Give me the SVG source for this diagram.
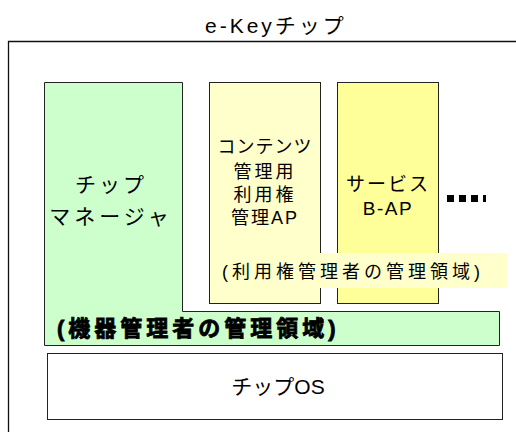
<svg xmlns="http://www.w3.org/2000/svg" width="516" height="432" viewBox="0 0 516 432">
<style>
.t{font-family:"Liberation Sans","Noto Sans CJK JP",sans-serif;fill:#000;text-anchor:middle;dominant-baseline:central}
.t.s{text-anchor:start}
.box{stroke:#222;stroke-width:1}
</style>
<rect width="516" height="432" fill="#fff"/>
<g id="frame">
<path d="M8.5,432 V41.5 H516" fill="none" stroke="#111" stroke-width="1.3"/>
</g>
<text class="t s" x="205" y="25" font-size="21" letter-spacing="3">e-Keyチップ</text>
<g id="chip-manager">
<path class="box" d="M44.5,82.5 H182.5 V311.5 H499.5 V345.5 H44.5 Z" fill="#CCFFCC"/>
<text class="t" x="111" y="184" font-size="21" letter-spacing="3">チップ</text>
<text class="t" x="111" y="216" font-size="21" letter-spacing="4">マネージャ</text>
<text class="t s" x="57" y="328" font-size="22" font-weight="bold" letter-spacing="4" style="stroke:#000;stroke-width:0.8">(機器管理者の管理領域)</text>
</g>
<g id="contents-ap">
<rect class="box" x="209.5" y="82.5" width="111" height="221" fill="#FFFFCC"/>
<text class="t" x="265" y="147" font-size="18" letter-spacing="1">コンテンツ</text>
<text class="t" x="265" y="172" font-size="18" letter-spacing="3">管理用</text>
<text class="t" x="265" y="195" font-size="18" letter-spacing="3">利用権</text>
<text class="t" x="265" y="218" font-size="18" letter-spacing="2">管理AP</text>
</g>
<g id="service-ap">
<rect class="box" x="337.5" y="82.5" width="101" height="221" fill="#FFFF99"/>
<text class="t" x="388" y="184" font-size="19" letter-spacing="2">サービス</text>
<text class="t" x="388" y="208" font-size="19" letter-spacing="1.5">B-AP</text>
</g>
<g id="more">
<rect x="447" y="195" width="7" height="7" fill="#000"/>
<rect x="459" y="195" width="7" height="7" fill="#000"/>
<rect x="471" y="195" width="7" height="7" fill="#000"/>
<rect x="483" y="195" width="3" height="7" fill="#000"/>
</g>
<g id="rights-area">
<rect x="210" y="253" width="297" height="35" fill="#FFFFCC"/>
<text class="t s" x="222" y="272" font-size="18" letter-spacing="4">(利用権管理者の管理領域)</text>
</g>
<g id="chip-os">
<rect class="box" x="47.5" y="353.5" width="455" height="66" fill="#fff"/>
<text class="t" x="278" y="386" font-size="21">チップOS</text>
</g>
<g id="connectors"></g>
</svg>
